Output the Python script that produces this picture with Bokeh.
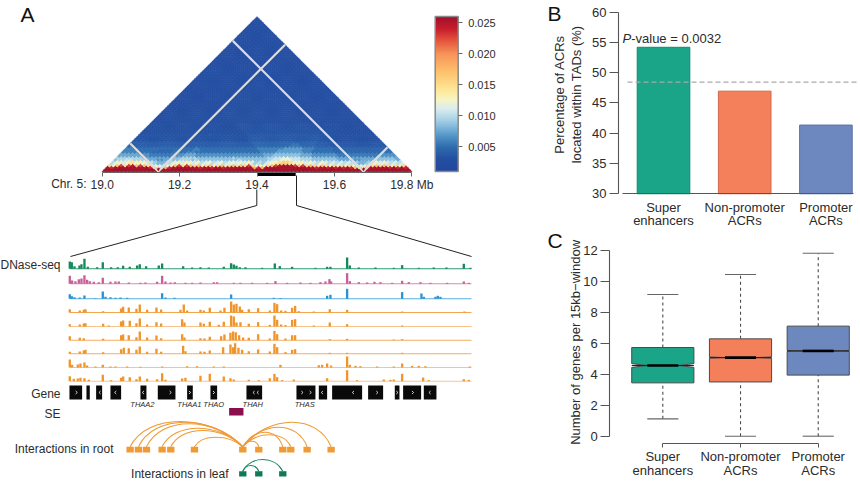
from bokeh.plotting import figure
from bokeh.layouts import row, column
from bokeh.models import (Range1d, LinearAxis, FixedTicker, LinearColorMapper, ColorBar,
                          ColumnDataSource, PrintfTickFormatter)
from bokeh.core.properties import value
from bokeh.embed import file_html
from bokeh.resources import INLINE
import numpy as np
import math

FONT = "Liberation Sans"
TXT = "#2b2b2b"

# ---------- panel A data ----------
hic_ticks = [19.0, 19.2, 19.4, 19.6, 19.8]
hic_gaps = [19.145, 19.675]
hic_bin = 0.01
hic_n = 80
# contact strength along the chromosome, one class per 10 kb
hic_strength = [4, 5, 4, 6, 7, 5, 7, 8, 6, 7, 6, 5, 4, 3, 2, 2, 3, 4, 6, 7,
                5, 7, 6, 5, 6, 4, 5, 6, 4, 5, 6, 4, 5, 6, 5, 6, 5, 7, 5, 3,
                4, 3, 5, 6, 7, 8, 9, 9, 8, 7, 6, 7, 5, 6, 5, 4, 6, 5, 4, 5,
                4, 5, 4, 5, 4, 3, 2, 2, 3, 5, 6, 5, 6, 5, 4, 5, 4, 5, 4, 3]
# upper limit of each distance band, in bins
hic_band_limit = [1, 2, 3, 5, 7, 9, 12, 15, 19, 24, 31, 999]
# contact value (x 1e-3) per strength class 2..9 and distance band
hic_levels = {
    2: [26, 14, 11, 8, 5.5, 4.2, 3.5, 3.2, 3.0, 3.0, 2.9, 2.9],
    3: [26, 18, 12, 9, 6.5, 5, 3.9, 3.4, 3.1, 3.0, 2.9, 2.9],
    4: [26, 24, 13, 10, 7.5, 5.5, 4.4, 3.6, 3.2, 3.0, 3.0, 2.9],
    5: [26, 26, 15, 11, 8.5, 6.5, 5, 3.9, 3.3, 3.1, 3.0, 2.9],
    6: [26, 26, 17, 12, 9.5, 7.5, 5.8, 4.5, 3.7, 3.4, 3.2, 3.0],
    7: [26, 26, 23, 13, 10.5, 8.5, 7, 5.3, 4.4, 4.0, 3.6, 3.0],
    8: [26, 26, 25, 14.5, 12, 10.5, 8.5, 6.5, 5, 4.3, 3.8, 3.1],
    9: [26, 26, 26, 16, 13.5, 12, 10, 8, 6.5, 5, 4.2, 3.6],
}
cbar_ticks = [0.005, 0.010, 0.015, 0.020, 0.025]
cmap_values = [0.001, 0.003, 0.005, 0.007, 0.009, 0.011, 0.0125, 0.014, 0.017, 0.020, 0.0225, 0.024, 0.026]
cmap_colors = ["#21479c", "#244fa2", "#2f6db0", "#5a9ccb", "#9ccbe3", "#d8ecf0", "#f5f5c8",
               "#fee99a", "#fdc36e", "#f7935a", "#e04a3a", "#c81e2e", "#a30f2a"]

track_names = ["leaf", "root1", "root2", "o1", "o2", "o3", "o4", "o5", "o6"]
track_colors = ["#15885d", "#c95f98", "#2a92d3", "#ef952c", "#ef952c", "#ef952c", "#ef952c", "#ef952c", "#ef952c"]
track_base_colors = ["#2f9a72", "#d98bb6", "#5aaee0", "#f2a650", "#f8c48c", "#f4ae60", "#f4ae60", "#f8c48c", "#f8c48c"]
track_base = [268.3, 283.3, 298.3, 312.0, 326.0, 339.7, 353.3, 367.0, 380.7]
# peak position (window units, 1205 = 100 kb, first = 208) and height
t1_pos = [208, 214, 222, 237, 243, 252, 262, 290, 307, 332, 352, 368, 388, 410, 418, 437, 475, 485, 548, 575, 600, 625, 670, 692, 700, 708, 718, 735, 785, 823, 838, 875, 945, 980, 990, 1040, 1048, 1075, 1125, 1180, 1205, 1255, 1300, 1338, 1390, 1410]
t1_val = [22, 20, 8, 10, 14, 30, 6, 5, 20, 5, 5, 9, 6, 10, 14, 8, 10, 16, 8, 4, 5, 4, 6, 17, 13, 9, 5, 5, 3, 16, 8, 6, 3, 6, 6, 34, 10, 4, 4, 3, 11, 3, 4, 4, 15, 3]
t2_pos = [208, 215, 225, 235, 243, 252, 260, 268, 280, 295, 307, 330, 345, 355, 385, 420, 435, 470, 485, 495, 510, 523, 555, 575, 600, 640, 650, 700, 720, 755, 800, 825, 860, 900, 930, 960, 975, 987, 992, 1040, 1048, 1075, 1100, 1122, 1140, 1175, 1205, 1225, 1260, 1290, 1340, 1390, 1405]
t2_val = [24, 10, 8, 14, 16, 26, 12, 8, 6, 5, 18, 6, 7, 7, 4, 3, 4, 6, 24, 7, 4, 5, 3, 3, 4, 5, 5, 3, 3, 3, 3, 8, 3, 4, 3, 5, 7, 14, 7, 32, 8, 5, 4, 6, 5, 3, 9, 5, 5, 3, 3, 7, 3]
t3_pos = [208, 214, 222, 238, 252, 285, 307, 315, 330, 345, 360, 380, 485, 495, 522, 692, 820, 840, 980, 990, 1040, 1205, 1263, 1270, 1305, 1312, 1320]
t3_val = [14, 8, 5, 4, 10, 2, 22, 6, 5, 3, 4, 3, 17, 4, 3, 13, 3, 2, 9, 12, 30, 20, 16, 6, 6, 9, 6]
t4_pos = [208, 238, 250, 255, 308, 362, 368, 385, 408, 418, 440, 468, 482, 540, 550, 560, 600, 610, 628, 660, 672, 692, 700, 708, 718, 725, 745, 773, 808, 822, 830, 842, 855, 875, 884, 895, 940, 988, 1040, 1205, 1392]
t4_val = [10, 6, 8, 10, 4, 12, 17, 15, 11, 24, 8, 15, 9, 8, 24, 6, 8, 6, 14, 6, 14, 33, 24, 26, 18, 8, 10, 13, 6, 29, 25, 6, 5, 14, 20, 4, 3, 10, 8, 3, 3]
t5_pos = [208, 238, 250, 255, 308, 325, 362, 368, 388, 408, 418, 440, 468, 482, 545, 552, 600, 610, 628, 655, 670, 692, 700, 708, 720, 745, 773, 808, 822, 830, 842, 855, 875, 884, 940, 988, 1040, 1205]
t5_val = [7, 6, 9, 10, 8, 3, 15, 18, 17, 10, 24, 6, 13, 9, 22, 12, 12, 8, 14, 5, 14, 33, 30, 12, 13, 8, 13, 5, 33, 20, 6, 4, 20, 22, 3, 12, 7, 3]
t6_pos = [208, 238, 250, 308, 362, 368, 385, 408, 418, 440, 468, 482, 545, 552, 600, 612, 628, 662, 672, 690, 698, 706, 716, 728, 745, 773, 808, 822, 830, 855, 875, 884, 988, 1040, 1180, 1205]
t6_val = [12, 7, 6, 4, 15, 17, 15, 9, 26, 8, 14, 6, 18, 8, 6, 5, 10, 12, 17, 22, 26, 24, 15, 8, 7, 18, 5, 28, 18, 5, 15, 15, 3, 4, 2, 3]
t7_pos = [208, 238, 250, 255, 308, 362, 370, 385, 408, 418, 440, 468, 482, 548, 555, 600, 612, 628, 668, 690, 698, 704, 714, 725, 745, 773, 808, 822, 830, 855, 875, 884, 988, 1040, 1205]
t7_val = [6, 7, 10, 12, 5, 14, 18, 17, 12, 22, 6, 15, 6, 24, 8, 7, 6, 10, 20, 28, 20, 32, 18, 12, 8, 13, 7, 30, 20, 5, 12, 14, 3, 3, 3]
t8_pos = [208, 215, 232, 240, 252, 260, 285, 307, 330, 345, 380, 420, 485, 560, 590, 640, 670, 840, 955, 965, 980, 992, 1040, 1048, 1065, 1080, 1130, 1180, 1205, 1235, 1255, 1275, 1408]
t8_val = [24, 8, 9, 12, 15, 6, 3, 8, 3, 3, 3, 2, 3, 4, 4, 3, 3, 8, 7, 8, 12, 6, 33, 8, 5, 4, 3, 3, 12, 5, 5, 4, 3]
t9_pos = [208, 220, 232, 240, 252, 265, 307, 332, 362, 368, 388, 408, 418, 440, 470, 485, 495, 545, 555, 600, 628, 670, 690, 700, 745, 775, 808, 822, 830, 845, 880, 980, 1040, 1070, 1150, 1170, 1180, 1205, 1268, 1285, 1390, 1405]
t9_val = [15, 7, 8, 10, 9, 4, 19, 3, 10, 14, 12, 6, 14, 7, 6, 24, 4, 8, 10, 16, 22, 14, 9, 5, 4, 3, 9, 22, 12, 3, 5, 9, 33, 3, 5, 4, 5, 22, 11, 3, 6, 4]
track_pos = [t1_pos, t2_pos, t3_pos, t4_pos, t5_pos, t6_pos, t7_pos, t8_pos, t9_pos]
track_val = [t1_val, t2_val, t3_val, t4_val, t5_val, t6_val, t7_val, t8_val, t9_val]

gene_start = [207, 258, 287, 330, 420, 472, 560, 630, 738, 888, 955, 995, 1103, 1183, 1208, 1270]
gene_end = [245, 268, 305, 362, 438, 525, 577, 650, 785, 945, 980, 1085, 1148, 1197, 1262, 1308]
arrow_pos = [228, 298, 345, 428, 510, 568, 640, 760, 772, 905, 930, 965, 1058, 1130, 1190, 1237, 1288]
arrow_dir = [1, -1, -1, -1, 1, 1, 1, -1, -1, 1, 1, -1, -1, 1, 1, 1, -1]
gene_names = ["THAA2", "THAA1", "THAO", "THAH", "THAS"]
gene_label_pos = [426, 567, 640, 757, 913]
se_range = [686, 729]
root_hub = 727
root_anchor = [389, 414, 438, 485, 511, 582, 727, 775, 847, 871, 920, 992]
root_arc_top = [421, 421.7, 423.3, 427.7, 430, 436.7, 446, 440.7, 431.7, 434.3, 426.7, 421.7]
leaf_hub = 727
leaf_anchor = [727, 775, 847]
leaf_arc_top = [470, 465, 459]

# ---------- panel B / C data ----------
categories = ["Super\nenhancers", "Non-promoter\nACRs", "Promoter\nACRs"]
colors = ["#1aa588", "#f37f5b", "#6d88bf"]
edge_colors = ["#148a72", "#cf6a4c", "#5a72a6"]
pct = [54.2, 46.95, 41.35]
pct_ref = 48.45
box_lo = [1.12, 0.0, 0.0]
box_q1 = [3.44, 3.5, 3.94]
box_med = [4.56, 5.07, 5.5]
box_q3 = [5.72, 6.28, 7.1]
box_hi = [9.14, 10.43, 11.8]
box_notch = [0.12, 0.04, 0.03]


def win(p):
    return 19400 + (np.asarray(p, dtype=float) - 208) * 100 / 1205


# ---------- panel A ----------
A = figure(width=530, height=481, x_range=Range1d(0, 530), y_range=Range1d(481, 0),
           x_axis_type=None, y_axis_type=None, toolbar_location=None, output_backend="svg",
           min_border=0, outline_line_color=None)
A.grid.visible = False
A.extra_x_ranges = {"mb": Range1d(18.7372, 20.1067), "kb": Range1d(19382.75, 19514.7)}
A.extra_y_ranges = {"dist": Range1d(-1.602, 0.8837)}

rgb = np.array([[int(c[i:i + 2], 16) for i in (1, 3, 5)] for c in cmap_colors], dtype=float)
frac = np.linspace(cmap_values[0], cmap_values[-1], 256)
pal = ["#%02x%02x%02x" % tuple(int(round(np.interp(f, cmap_values, rgb[:, k]))) for k in range(3)) for f in frac]
mapper = LinearColorMapper(palette=pal, low=0.00097, high=0.02597)

xs, ys, vs = [], [], []
for i in range(hic_n):
    for j in range(i, hic_n):
        a0, a1 = 19 + i * hic_bin, 19 + (i + 1) * hic_bin
        b0, b1 = 19 + j * hic_bin, 19 + (j + 1) * hic_bin
        d = j - i
        # strength class seen by this contact: the classes along the span it covers
        mid = (i + j) // 2
        span = hic_strength[i:j + 1] if d >= 6 else hic_strength[mid:mid + 1]
        s = int(round(sum(span) / len(span)))
        s = max(2, min(9, s))
        band = next(k for k, lim in enumerate(hic_band_limit) if d <= lim)
        xs.append([(a0 + b0) / 2, (a0 + b1) / 2, (a1 + b1) / 2, (a1 + b0) / 2])
        ys.append([d * hic_bin, (d + 1) * hic_bin, d * hic_bin, max(0, d - 1) * hic_bin])
        vs.append(hic_levels[s][band] * 1e-3)
cells = ColumnDataSource(dict(xs=xs, ys=ys, v=vs))
A.patches("xs", "ys", source=cells, x_range_name="mb", y_range_name="dist",
          fill_color={"field": "v", "transform": mapper},
          line_color={"field": "v", "transform": mapper}, line_width=0.8)

for g in hic_gaps:
    A.line([(19.0 + g) / 2, g, (g + 19.8) / 2], [g - 19.0, 0.0, 19.8 - g],
           x_range_name="mb", y_range_name="dist", line_color="#dcdcdc", line_width=2.2)
A.scatter(hic_gaps, [0.011, 0.011], x_range_name="mb", y_range_name="dist", marker="diamond",
          size=4, fill_color="#a30f2a", line_color=None)

mb_axis = LinearAxis(x_range_name="mb", fixed_location=171.5, ticker=FixedTicker(ticks=hic_ticks),
                     major_label_overrides={19.0: "19.0", 19.2: "19.2", 19.4: "19.4", 19.6: "19.6", 19.8: "19.8 Mb"},
                     axis_line_color="#666666",
                     major_tick_line_color="#666666", major_tick_out=4, major_tick_in=0,
                     minor_tick_line_color=None, major_label_text_font=FONT,
                     major_label_text_font_size="12px", major_label_text_color=TXT,
                     major_label_standoff=2)
mb_axis.bounds = (19.0, 19.8)
A.add_layout(mb_axis, "below")
A.quad(left=[19.4], right=[19.5], top=[172], bottom=[175.5], x_range_name="mb", fill_color="black", line_color=None)

A.line([256.3, 256.3, 70], [189, 205, 256], line_color="#222222", line_width=1)
A.line([296, 296, 471], [175, 205, 256], line_color="#222222", line_width=1)

cb = ColorBar(color_mapper=mapper, location=(434.7, 310), width=23, height=155, padding=0, margin=0,
              ticker=FixedTicker(ticks=cbar_ticks), formatter=PrintfTickFormatter(format="%.3f"),
              major_tick_line_color="#666666", major_tick_in=0, major_tick_out=4, bar_line_color="#8a8a8a",
              bar_line_width=1.5, major_label_text_font=FONT, major_label_text_font_size="11px",
              major_label_text_color=TXT, label_standoff=6, background_fill_alpha=0, border_line_color=None)
A.add_layout(cb)

for name, col, bcol, base, pos, val in zip(track_names, track_colors, track_base_colors, track_base, track_pos, track_val):
    pos = np.asarray(pos, dtype=float)
    val = np.asarray(val, dtype=float)
    A.line(win([208, 1413]), [base, base], x_range_name="kb", line_color=bcol, line_width=1.1)
    A.quad(left=win(pos - 3.5), right=win(pos + 3.5), top=base - val / 3, bottom=[base] * len(val),
           x_range_name="kb", fill_color=col, line_color=None)

A.quad(left=win(gene_start), right=win(gene_end), top=[385] * len(gene_start), bottom=[399] * len(gene_start),
       x_range_name="kb", fill_color="#0a0a0a", line_color=None)
chev_x = [list(win([p - d * 2.5, p + d * 2.5, p - d * 2.5])) for p, d in zip(arrow_pos, arrow_dir)]
chev_y = [[390.5, 392, 393.5] for _ in arrow_pos]
A.multi_line(chev_x, chev_y, x_range_name="kb", line_color="white", line_width=0.8)

A.quad(left=win(se_range[:1]), right=win(se_range[1:]), top=[407.5], bottom=[415], x_range_name="kb",
       fill_color="#8b0f4c", line_color=None)

ra = [p for p in root_anchor if p != root_hub]
rt = [t for p, t in zip(root_anchor, root_arc_top) if p != root_hub]
ctrl_r = [446.3 - (446.3 - t) * 4 / 3 for t in rt]
A.bezier(x0=win([root_hub] * len(ra)), y0=[446.3] * len(ra), x1=win(ra), y1=[446.3] * len(ra),
         cx0=win([root_hub + (p - root_hub) * 0.3 for p in ra]), cy0=ctrl_r,
         cx1=win([p - (p - root_hub) * 0.15 for p in ra]), cy1=ctrl_r,
         x_range_name="kb", line_color="#ef9a35", line_width=1.1)
w = 11
A.quad(left=win([p - w for p in root_anchor]), right=win([p + w for p in root_anchor]),
       top=[446.3] * len(root_anchor), bottom=[452] * len(root_anchor),
       x_range_name="kb", fill_color="#ef9a35", line_color=None)
la = [p for p in leaf_anchor if p != leaf_hub]
lt = [t for p, t in zip(leaf_anchor, leaf_arc_top) if p != leaf_hub]
ctrl_l = [470.7 - (470.7 - t) * 4 / 3 for t in lt]
A.bezier(x0=win([leaf_hub] * len(la)), y0=[470.7] * len(la), x1=win(la), y1=[470.7] * len(la),
         cx0=win([leaf_hub + (p - leaf_hub) * 0.2 for p in la]), cy0=ctrl_l,
         cx1=win([p - (p - leaf_hub) * 0.2 for p in la]), cy1=ctrl_l,
         x_range_name="kb", line_color="#15885d", line_width=1.1)
A.quad(left=win([p - w for p in leaf_anchor]), right=win([p + w for p in leaf_anchor]),
       top=[470.7] * 3, bottom=[476] * 3, x_range_name="kb", fill_color="#0f7a53", line_color=None)

A.text(x=[86], y=[183], text=["Chr. 5:"], text_font=value(FONT), text_font_size="12px", text_color=TXT,
       text_align="right", text_baseline="middle")
A.text(x=[60, 60, 60, 113, 228], y=[264, 393, 413, 448, 473],
       text=["DNase-seq", "Gene", "SE", "Interactions in root", "Interactions in leaf"],
       text_font=value(FONT), text_font_size="12px", text_color=TXT, text_align="right", text_baseline="middle")
A.text(x=win(gene_label_pos), y=[404] * 5, text=gene_names, x_range_name="kb", text_font=value(FONT),
       text_font_size="7.5px", text_font_style="italic", text_color=TXT, text_align="center", text_baseline="middle")
A.text(x=[20], y=[13.7], text=["A"], text_font=value(FONT), text_font_size="21px", text_color="#111111",
       text_align="left", text_baseline="middle")


def style_axis(ax):
    ax.axis_line_color = "#555555"
    ax.axis_line_width = 1.1
    ax.major_tick_line_color = "#555555"
    ax.minor_tick_line_color = None
    ax.major_label_text_font = FONT
    ax.major_label_text_font_size = "13px"
    ax.major_label_text_color = TXT


# ---------- panel B ----------
B = figure(width=330, height=230, x_range=Range1d(-0.638, 3.426), y_range=Range1d(23.93, 61.93),
           x_axis_type=None, y_axis_type=None, toolbar_location=None, output_backend="svg",
           min_border=0, outline_line_color=None)
B.grid.visible = False
B.vbar(x=[1, 2, 3], top=pct, bottom=30, width=0.648, fill_color=colors, line_color=edge_colors, line_width=1)
B.line([0.557, 3.39], [pct_ref, pct_ref], line_color="#a9a9a9", line_width=1.4, line_dash="5 3")
b_y = LinearAxis(fixed_location=0.446, ticker=FixedTicker(ticks=[30, 35, 40, 45, 50, 55, 60]))
style_axis(b_y)
b_y.bounds = (30, 60)
b_y.major_tick_out = 9
b_y.major_tick_in = 0
b_y.major_label_standoff = 3
B.add_layout(b_y, "left")
b_x = LinearAxis(fixed_location=30, ticker=FixedTicker(ticks=[1, 2, 3]))
style_axis(b_x)
b_x.major_label_overrides = dict(zip([1, 2, 3], categories))
b_x.major_tick_line_color = None
b_x.major_label_standoff = 0
b_x.major_label_text_line_height = 0.9
b_x.bounds = (0.495, 3.34)
B.add_layout(b_x, "below")
B.text(x=[-0.275, -0.075], y=[46.4, 46.4], text=["Percentage of ACRs", "located within TADs (%)"],
       angle=math.pi / 2, text_font=value(FONT), text_font_size="13px", text_color=TXT,
       text_align="center", text_baseline="middle")
B.text(x=[0.495], y=[55.7], text=["P"], text_font=value(FONT), text_font_size="13px", text_font_style="italic",
       text_color=TXT, text_baseline="middle")
B.text(x=[0.602], y=[55.7], text=["-value = 0.0032"], text_font=value(FONT), text_font_size="13px",
       text_color=TXT, text_baseline="middle")
B.text(x=[-0.429], y=[59.79], text=["B"], text_font=value(FONT), text_font_size="21px", text_color="#111111",
       text_baseline="middle")

# ---------- panel C ----------
C = figure(width=330, height=251, x_range=Range1d(-0.7027, 3.544), y_range=Range1d(-2.923, 13.27),
           x_axis_type=None, y_axis_type=None, toolbar_location=None, output_backend="svg",
           min_border=0, outline_line_color=None)
C.grid.visible = False
cx = np.array([1, 2, 3], dtype=float)
C.segment(cx, box_lo, cx, box_q1, line_color="#4a4a4a", line_width=1.1, line_dash="3 3")
C.segment(cx, box_q3, cx, box_hi, line_color="#4a4a4a", line_width=1.1, line_dash="3 3")
C.segment(cx - 0.2, box_lo, cx + 0.2, box_lo, line_color="#666666", line_width=1.1)
C.segment(cx - 0.2, box_hi, cx + 0.2, box_hi, line_color="#666666", line_width=1.1)
bw, nw = 0.4, 0.2
bx = [[c - bw, c + bw, c + bw, c + nw, c + bw, c + bw, c - bw, c - bw, c - nw, c - bw] for c in cx]
by = [[q1, q1, m - n, m, m + n, q3, q3, m + n, m, m - n]
      for q1, m, q3, n in zip(box_q1, box_med, box_q3, box_notch)]
C.patches(bx, by, fill_color=colors, line_color="#4a4a4a", line_width=1)
C.segment(cx - bw, box_med, cx + bw, box_med, line_color="#222222", line_width=1)
C.segment(cx - nw, box_med, cx + nw, box_med, line_color="black", line_width=2.6)
c_y = LinearAxis(fixed_location=0.318, ticker=FixedTicker(ticks=[0, 2, 4, 6, 8, 10, 12]))
style_axis(c_y)
c_y.bounds = (0, 12)
c_y.major_tick_out = 9
c_y.major_tick_in = 0
c_y.major_label_standoff = 3
C.add_layout(c_y, "left")
c_x = LinearAxis(fixed_location=-0.4516, ticker=FixedTicker(ticks=[1, 2, 3]))
style_axis(c_x)
c_x.major_label_overrides = dict(zip([1, 2, 3], categories))
c_x.major_tick_out = 4
c_x.major_tick_in = 0
c_x.major_label_standoff = 2
c_x.major_label_text_line_height = 0.9
c_x.bounds = (1, 3)
C.add_layout(c_x, "below")
C.text(x=[-0.1236], y=[6.05], text=["Number of genes per 15kb\u2212window"], angle=math.pi / 2,
       text_font=value(FONT), text_font_size="13px", text_color=TXT, text_align="center", text_baseline="middle")
C.text(x=[-0.484], y=[12.63], text=["C"], text_font=value(FONT), text_font_size="21px", text_color="#111111",
       text_baseline="middle")

page = row(A, column(B, C, spacing=0), spacing=0)
open("out.html", "w").write(file_html(page, INLINE))
